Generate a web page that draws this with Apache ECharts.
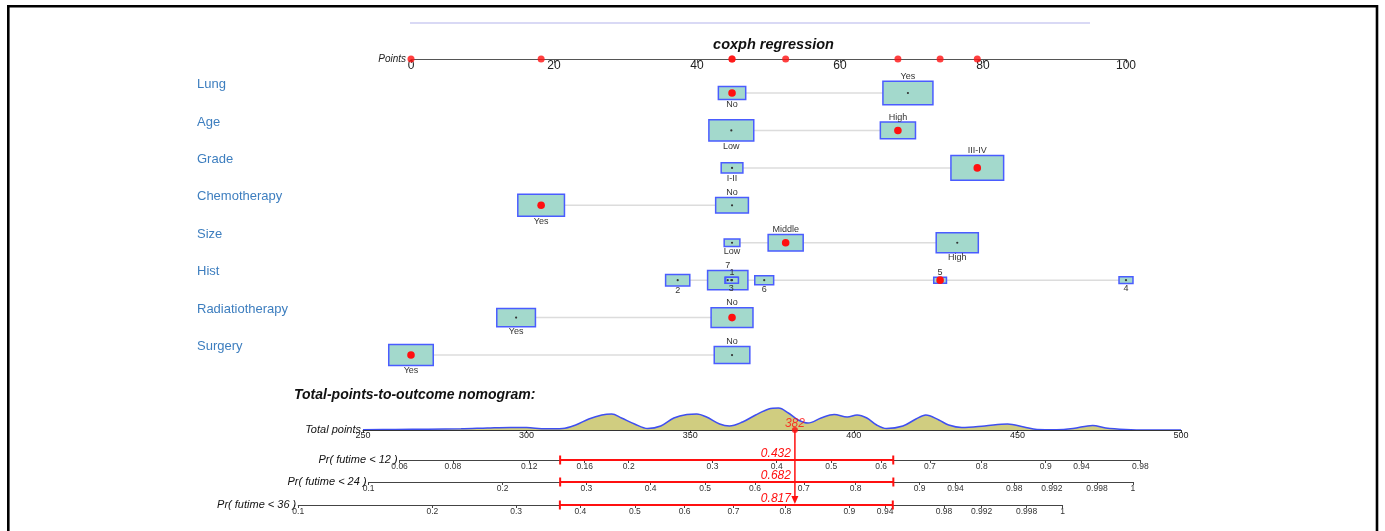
<!DOCTYPE html>
<html>
<head>
<meta charset="utf-8">
<script src="https://cdn.jsdelivr.net/npm/echarts@6/dist/echarts.min.js"></script>
<style>
  html, body { margin: 0; padding: 0; background: #ffffff; }
  #chart { width: 1385px; height: 531px; }
</style>
</head>
<body>
<div id="chart"></div>
<script>
// ---------------- data ----------------
// Predictor rows of the nomogram, top to bottom
const variables = ['Lung', 'Age', 'Grade', 'Chemotherapy', 'Size', 'Hist', 'Radiatiotherapy', 'Surgery'];

// Levels of each predictor: names, points on the 0-100 scale, share of patients
const lungLevels = ['No', 'Yes'];
const lungPoints = [44.9, 69.5];
const lungShare = [0.23, 0.77];

const ageLevels = ['Low', 'High'];
const agePoints = [44.8, 68.1];
const ageShare = [0.62, 0.38];

const gradeLevels = ['I-II', 'III-IV'];
const gradePoints = [44.9, 79.2];
const gradeShare = [0.145, 0.855];

const chemoLevels = ['Yes', 'No'];
const chemoPoints = [18.2, 44.9];
const chemoShare = [0.67, 0.33];

const sizeLevels = ['Low', 'Middle', 'High'];
const sizePoints = [44.9, 52.4, 76.4];
const sizeShare = [0.076, 0.378, 0.546];

const histLevels = ['2', '7', '3', '1', '6', '5', '4'];
const histPoints = [37.3, 44.3, 44.8, 44.9, 49.4, 74.0, 100];
const histShare = [0.18, 0.50, 0.05, 0.05, 0.11, 0.05, 0.06];

const radioLevels = ['Yes', 'No'];
const radioPoints = [14.7, 44.9];
const radioShare = [0.46, 0.54];

const surgeryLevels = ['Yes', 'No'];
const surgeryPoints = [0, 44.9];
const surgeryShare = [0.61, 0.39];

// The patient being scored (one level per predictor row)
const patientLevels = ['No', 'High', 'III-IV', 'Yes', 'Middle', '5', 'No', 'Yes'];

// Axis ticks
const pointTicks = [0, 20, 40, 60, 80, 100];
const totalTicks = [250, 300, 350, 400, 450, 500];

// Distribution of total points in the cohort (relative density)
const densityTotal = [250, 260, 270, 280, 288, 295, 300, 306, 311, 315, 319, 323, 326, 329, 333, 337, 341, 345, 349, 352,
  355, 359, 362, 366, 370, 374, 377, 380, 383, 386, 390, 394, 398, 401, 404, 407, 410, 415, 419, 422,
  426, 429, 433, 440, 447, 452, 456, 462, 467, 473, 477, 483, 490, 500];
const densityValue = [0.3, 0.6, 0.8, 1.2, 2, 2.6, 2.4, 1.2, 1.5, 5, 11, 15, 16, 12, 6, 1.5, 4, 12, 15.5, 16,
  13, 6, 4, 8, 15, 21, 22, 17, 10, 7, 12, 15.5, 13, 15, 12, 5, 1.5, 4, 11, 15,
  10, 5, 2.5, 4, 6, 3, 0.5, 0.3, 1.5, 4.5, 2, 0.5, 0, 0];

// Outcome scales: predicted event probability and its interval at the patient's total
const outcomeNames = ['Pr( futime < 12 )', 'Pr( futime < 24 )', 'Pr( futime < 36 )'];
const outcomeProb = [0.432, 0.682, 0.817];
const outcomeLower = [0.141, 0.265, 0.366];
const outcomeUpper = [0.625, 0.863, 0.947];

const pr12Ticks = [0.06, 0.08, 0.12, 0.16, 0.2, 0.3, 0.4, 0.5, 0.6, 0.7, 0.8, 0.9, 0.94, 0.98];
const pr12Labels = ['0.06', '0.08', '0.12', '0.16', '0.2', '0.3', '0.4', '0.5', '0.6', '0.7', '0.8', '0.9', '0.94', '0.98'];
const pr24Ticks = [0.1, 0.2, 0.3, 0.4, 0.5, 0.6, 0.7, 0.8, 0.9, 0.94, 0.98, 0.992, 0.998, 0.9995];
const pr24Labels = ['0.1', '0.2', '0.3', '0.4', '0.5', '0.6', '0.7', '0.8', '0.9', '0.94', '0.98', '0.992', '0.998', '1'];
const pr36Ticks = [0.1, 0.2, 0.3, 0.4, 0.5, 0.6, 0.7, 0.8, 0.9, 0.94, 0.98, 0.992, 0.998, 0.9995];
const pr36Labels = ['0.1', '0.2', '0.3', '0.4', '0.5', '0.6', '0.7', '0.8', '0.9', '0.94', '0.98', '0.992', '0.998', '1'];

// Total points per unit of log(-log(1 - p)) (Cox model linear predictor scale)
const pointsPerCloglog = 54.6;

// ---------------- layout & styles ----------------
const FONT = '"Liberation Sans", Arial, Helvetica, sans-serif';
const LAYOUT = {
  pointsLeft: 411, pointsWidth: 715, pointsAxisY: 59,
  rowsTop: 74.3, rowHeight: 37.43, rowLabelX: 197,
  totalLeft: 363, totalWidth: 818, totalAxisY: 430, densityHeight: 35,
  outcomeAxisY: [460, 482, 505]
};
const BOX_W = 57, BOX_H = 27;     // box size for a share of 1 (scaled by sqrt(share))
const RED = '#ff1010';

// ---------------- derived ----------------
const levelSets = [
  [lungLevels, lungPoints, lungShare],
  [ageLevels, agePoints, ageShare],
  [gradeLevels, gradePoints, gradeShare],
  [chemoLevels, chemoPoints, chemoShare],
  [sizeLevels, sizePoints, sizeShare],
  [histLevels, histPoints, histShare],
  [radioLevels, radioPoints, radioShare],
  [surgeryLevels, surgeryPoints, surgeryShare]
];

const boxItems = [];
const rowSpans = [];
const chosenPoints = [];
levelSets.forEach(([names, pts, share], row) => {
  // labels alternate below / above along the row, from left to right
  const order = names.map((_, i) => i).sort((a, b) => pts[a] - pts[b]);
  order.forEach((i, rank) => {
    const selected = names[i] === patientLevels[row];
    if (selected) chosenPoints.push(pts[i]);
    boxItems.push({ row, pts: pts[i], share: share[i], name: names[i], selected, above: rank % 2 === 1 });
  });
  rowSpans.push([Math.min(...pts), Math.max(...pts), row]);
});
// larger boxes first so smaller ones stay visible on top
boxItems.sort((a, b) => b.share - a.share);

const totalPoints = Math.round(chosenPoints.reduce((s, v) => s + v, 0));

const cloglog = p => Math.log(-Math.log(1 - p));
const totalOfProb = (k, p) => totalPoints + (cloglog(p) - cloglog(outcomeProb[k])) * pointsPerCloglog;
const pxOfTotal = t => LAYOUT.totalLeft +
  (t - totalTicks[0]) / (totalTicks[totalTicks.length - 1] - totalTicks[0]) * LAYOUT.totalWidth;

const outcomeTicks = [pr12Ticks, pr24Ticks, pr36Ticks];
const outcomeLabels = [pr12Labels, pr24Labels, pr36Labels];

// ---------------- grids & axes ----------------
const grids = [
  { left: LAYOUT.pointsLeft, width: LAYOUT.pointsWidth, top: LAYOUT.pointsAxisY - 19, height: 19 },
  { left: LAYOUT.pointsLeft, width: LAYOUT.pointsWidth, top: LAYOUT.rowsTop, height: LAYOUT.rowHeight * variables.length },
  { left: LAYOUT.totalLeft, width: LAYOUT.totalWidth, top: LAYOUT.totalAxisY - LAYOUT.densityHeight, height: LAYOUT.densityHeight }
];
const xAxes = [
  {
    gridIndex: 0, type: 'value', min: pointTicks[0], max: pointTicks[pointTicks.length - 1],
    interval: pointTicks[1] - pointTicks[0], z: 5,
    axisLine: { lineStyle: { color: '#555', width: 1.2 } },
    axisTick: { length: 4, lineStyle: { color: '#555' } },
    axisLabel: { color: '#222', fontSize: 12, margin: 1, fontFamily: FONT },
    splitLine: { show: false },
    name: 'Points', nameLocation: 'start', nameGap: 5, nameMoveOverlap: false,
    nameTextStyle: { fontStyle: 'italic', fontSize: 10, color: '#222', fontFamily: FONT }
  },
  { gridIndex: 1, type: 'value', min: 0, max: 100, show: false },
  {
    gridIndex: 2, type: 'value', min: totalTicks[0], max: totalTicks[totalTicks.length - 1],
    interval: totalTicks[1] - totalTicks[0], z: 5,
    axisLine: { lineStyle: { color: '#333', width: 1 } },
    axisTick: { length: 3, lineStyle: { color: '#333' } },
    axisLabel: { color: '#222', fontSize: 9, margin: 1, fontFamily: FONT },
    splitLine: { show: false },
    name: 'Total points', nameLocation: 'start', nameGap: 2, nameMoveOverlap: false,
    nameTextStyle: { fontStyle: 'italic', fontSize: 11, color: '#111', fontFamily: FONT, padding: [0, 0, 2, 0] }
  }
];
const yAxes = [
  { gridIndex: 0, type: 'value', min: 0, max: 1, show: false },
  {
    gridIndex: 1, type: 'category', data: variables, inverse: true,
    axisLine: { show: false }, axisTick: { show: false }, splitLine: { show: false },
    axisLabel: { align: 'left', verticalAlign: 'bottom', padding: [0, 0, 2, 0],
      margin: LAYOUT.pointsLeft - LAYOUT.rowLabelX, color: '#3d7ebf', fontSize: 13, fontFamily: FONT }
  },
  { gridIndex: 2, type: 'value', min: 0, max: LAYOUT.densityHeight, show: false }
];

outcomeTicks.forEach((ticks, k) => {
  const tMin = totalOfProb(k, ticks[0]);
  const tMax = totalOfProb(k, ticks[ticks.length - 1]);
  const left = pxOfTotal(tMin);
  grids.push({ left, width: pxOfTotal(tMax) - left, top: LAYOUT.outcomeAxisY[k] - 10, height: 10 });
  const tickTotals = ticks.map(p => totalOfProb(k, p));
  const labelMap = new Map(tickTotals.map((t, i) => [t.toFixed(4), outcomeLabels[k][i]]));
  xAxes.push({
    gridIndex: 3 + k, type: 'value', min: tMin, max: tMax, z: 5,
    axisLine: { lineStyle: { color: '#444', width: 1 } },
    axisTick: { customValues: tickTotals, length: 3, lineStyle: { color: '#444' } },
    axisLabel: {
      customValues: tickTotals, color: '#333', fontSize: 8.5, margin: 2, fontFamily: FONT,
      formatter: v => labelMap.get(Number(v).toFixed(4)) || ''
    },
    splitLine: { show: false },
    name: outcomeNames[k], nameLocation: 'start', nameGap: 2, nameMoveOverlap: false,
    nameTextStyle: { fontStyle: 'italic', fontSize: 11, color: '#111', fontFamily: FONT, padding: [0, 0, 3, 0] }
  });
  yAxes.push({ gridIndex: 3 + k, type: 'value', min: 0, max: 1, show: false });
});
grids.forEach(g => { g.outerBoundsMode = 'none'; g.containLabel = false; });

// ---------------- series ----------------
const series = [
  // light connecting line along each predictor row
  {
    type: 'custom', xAxisIndex: 1, yAxisIndex: 1, z: 1, silent: true,
    data: rowSpans,
    renderItem: (params, api) => {
      const a = api.coord([api.value(0), api.value(2)]);
      const b = api.coord([api.value(1), api.value(2)]);
      return { type: 'line', shape: { x1: a[0], y1: a[1], x2: b[0], y2: b[1] },
        style: { stroke: '#dcdcdc', lineWidth: 1.5 } };
    }
  },
  // one box per level, sized by share of patients
  {
    type: 'custom', xAxisIndex: 1, yAxisIndex: 1, z: 2, silent: true,
    data: boxItems.map(b => [b.pts, b.row]),
    encode: { x: 0, y: 1 },
    renderItem: (params, api) => {
      const item = boxItems[params.dataIndex];
      const c = api.coord([api.value(0), api.value(1)]);
      const w = BOX_W * Math.sqrt(item.share);
      const h = BOX_H * Math.sqrt(item.share);
      return {
        type: 'group',
        children: [
          { type: 'rect', shape: { x: c[0] - w / 2, y: c[1] - h / 2, width: w, height: h },
            style: { fill: '#a3d9cc', stroke: '#4a5cff', lineWidth: 1.5 } },
          { type: 'circle', shape: { cx: c[0], cy: c[1], r: item.selected ? 3.8 : 1.1 },
            style: { fill: item.selected ? RED : '#333' }, z2: 5 },
          { type: 'text', z2: 6,
            style: { text: item.name, x: c[0], y: item.above ? c[1] - h / 2 - 0.5 : c[1] + h / 2 + 0.5,
              align: 'center', verticalAlign: item.above ? 'bottom' : 'top',
              fontSize: 9, fontFamily: FONT, fill: '#333' } }
        ]
      };
    }
  },
  // the patient's points marked on the Points scale
  {
    type: 'scatter', xAxisIndex: 0, yAxisIndex: 0, z: 6, silent: true,
    symbolSize: 7, itemStyle: { color: RED },
    data: chosenPoints.map(p => [p, 0])
  },
  // distribution of total points
  {
    type: 'line', xAxisIndex: 2, yAxisIndex: 2, z: 2, silent: true,
    smooth: 0.35, symbol: 'none',
    lineStyle: { color: '#3f4ff0', width: 1.5 },
    areaStyle: { color: '#d0cd80', opacity: 1 },
    data: densityTotal.map((t, i) => [t, densityValue[i]])
  },
  // drop line from the total down to the last outcome scale
  {
    type: 'custom', xAxisIndex: 2, yAxisIndex: 2, z: 7, silent: true, clip: false,
    data: [[totalPoints, 0]],
    renderItem: (params, api) => {
      const p = api.coord([api.value(0), api.value(1)]);
      const yEnd = LAYOUT.outcomeAxisY[LAYOUT.outcomeAxisY.length - 1];
      return {
        type: 'group',
        children: [
          { type: 'line', shape: { x1: p[0], y1: p[1], x2: p[0], y2: yEnd - 6 },
            style: { stroke: RED, lineWidth: 1.5 } },
          { type: 'polygon', shape: { points: [[p[0] - 3.5, yEnd - 9], [p[0] + 3.5, yEnd - 9], [p[0], yEnd - 1]] },
            style: { fill: RED } }
        ]
      };
    }
  },
  {
    type: 'scatter', xAxisIndex: 2, yAxisIndex: 2, z: 8, silent: true,
    symbolSize: 6, itemStyle: { color: RED },
    data: [[totalPoints, 0]],
    label: { show: true, position: 'top', distance: -3, formatter: String(totalPoints),
      color: RED, fontStyle: 'italic', fontSize: 12, fontFamily: FONT }
  }
];

outcomeTicks.forEach((ticks, k) => {
  series.push({
    type: 'custom', xAxisIndex: 3 + k, yAxisIndex: 3 + k, z: 7, silent: true, clip: false,
    data: [[totalOfProb(k, outcomeLower[k]), totalOfProb(k, outcomeUpper[k]), totalOfProb(k, outcomeProb[k])]],
    renderItem: (params, api) => {
      const a = api.coord([api.value(0), 0]);
      const b = api.coord([api.value(1), 0]);
      const m = api.coord([api.value(2), 0]);
      return {
        type: 'group',
        children: [
          { type: 'line', shape: { x1: a[0], y1: a[1], x2: b[0], y2: b[1] }, style: { stroke: RED, lineWidth: 2 } },
          { type: 'line', shape: { x1: a[0], y1: a[1] - 4.5, x2: a[0], y2: a[1] + 4.5 }, style: { stroke: RED, lineWidth: 2 } },
          { type: 'line', shape: { x1: b[0], y1: b[1] - 4.5, x2: b[0], y2: b[1] + 4.5 }, style: { stroke: RED, lineWidth: 2 } },
          { type: 'text', style: { text: outcomeProb[k].toFixed(3), x: m[0] - 4, y: m[1] - 0.5,
              align: 'right', verticalAlign: 'bottom', fontStyle: 'italic', fontSize: 12,
              fontFamily: FONT, fill: RED } }
        ]
      };
    }
  });
});

// ---------------- chart ----------------
const chart = echarts.init(document.getElementById('chart'), null, { renderer: 'canvas' });
chart.setOption({
  backgroundColor: '#ffffff',
  animation: false,
  title: [
    { text: 'coxph regression', left: LAYOUT.pointsLeft + LAYOUT.pointsWidth / 2, top: 32, textAlign: 'center',
      textStyle: { fontSize: 14.5, fontWeight: 'bold', fontStyle: 'italic', color: '#111', fontFamily: FONT } },
    { text: 'Total-points-to-outcome nomogram:', left: 289, top: 383,
      textStyle: { fontSize: 14, fontWeight: 'bold', fontStyle: 'italic', color: '#111', fontFamily: FONT } }
  ],
  graphic: [
    { type: 'rect', silent: true, shape: { x: 8.3, y: 6.3, width: 1368.7, height: 560 },
      style: { fill: 'none', stroke: '#000', lineWidth: 2.6 } },
    { type: 'line', silent: true, shape: { x1: 410, y1: 23, x2: 1090, y2: 23 },
      style: { stroke: '#ccccf2', lineWidth: 1.5 } }
  ],
  grid: grids,
  xAxis: xAxes,
  yAxis: yAxes,
  series
});
</script>
</body>
</html>
